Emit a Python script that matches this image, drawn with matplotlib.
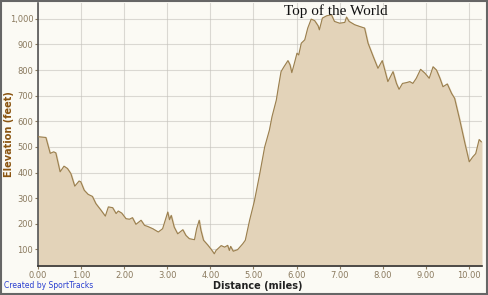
import matplotlib
matplotlib.use("Agg")
import matplotlib.pyplot as plt
from matplotlib.ticker import FuncFormatter
import numpy as np

# elevation profile
dist = [0.00, 0.18, 0.28, 0.36, 0.41, 0.51, 0.60, 0.68, 0.76, 0.85, 0.95, 0.99,
        1.07, 1.16, 1.26, 1.34, 1.46, 1.56, 1.63, 1.73, 1.81, 1.86, 1.94, 2.04,
        2.12, 2.19, 2.27, 2.39, 2.47, 2.54, 2.66, 2.79, 2.89, 3.01, 3.05, 3.09,
        3.16, 3.24, 3.36, 3.43, 3.51, 3.63, 3.68, 3.74, 3.78, 3.84, 3.94, 4.02,
        4.09, 4.13, 4.25, 4.33, 4.40, 4.44, 4.47, 4.53, 4.63, 4.75, 4.81, 4.91,
        5.02, 5.14, 5.26, 5.37, 5.43, 5.47, 5.53, 5.58, 5.64, 5.70, 5.80, 5.85,
        5.89, 5.95, 6.01, 6.05, 6.11, 6.19, 6.26, 6.34, 6.42, 6.50, 6.53, 6.60,
        6.70, 6.81, 6.88, 7.00, 7.12, 7.16, 7.22, 7.35, 7.47, 7.58, 7.66, 7.78,
        7.89, 7.99, 8.05, 8.12, 8.24, 8.32, 8.38, 8.46, 8.55, 8.63, 8.70, 8.78,
        8.88, 8.98, 9.08, 9.17, 9.25, 9.33, 9.40, 9.50, 9.60, 9.67, 9.79, 9.91,
        10.01, 10.09, 10.16, 10.24, 10.29]
elev = [540, 537, 475, 481, 477, 403, 425, 416, 396, 347, 367, 364,
        331, 315, 307, 279, 253, 230, 266, 263, 240, 250, 242, 220,
        218, 224, 198, 214, 194, 190, 181, 168, 181, 246, 216, 233,
        187, 161, 177, 155, 142, 138, 181, 214, 175, 136, 117, 100,
        83, 96, 115, 109, 116, 96, 112, 93, 99, 122, 136, 214,
        288, 390, 500, 566, 618, 644, 683, 735, 794, 811, 837, 820,
        790, 827, 866, 859, 905, 918, 964, 999, 993, 973, 957, 1003,
        1012, 1016, 990, 983, 986, 1007, 990, 977, 970, 964, 905, 853,
        807, 837, 800, 755, 794, 748, 725, 748, 751, 755, 748, 768,
        803, 788, 768, 813, 800, 768, 735, 746, 709, 690, 605, 514,
        442, 461, 474, 529, 520]

xticks = [0, 1, 2, 3, 4, 5, 6, 7, 8, 9, 10]
yticks = [100, 200, 300, 400, 500, 600, 700, 800, 900, 1000]

fig = plt.figure(figsize=(4.89, 2.95), dpi=100)
fig.patch.set_facecolor("#fbfaf4")
ax = fig.add_axes([0.078, 0.098, 0.908, 0.892])
ax.set_facecolor("#fbfaf4")

ax.fill_between(dist, 0, elev, color="#e3d3b9", zorder=2)
ax.plot(dist, elev, color="#9a7f4e", lw=0.8, zorder=3)

ax.set_xlim(0, 10.31)
ax.set_ylim(35, 1062)
ax.set_xticks(xticks)
ax.set_yticks(yticks)
ax.xaxis.set_major_formatter(FuncFormatter(lambda v, p: "%.2f" % v))
ax.yaxis.set_major_formatter(FuncFormatter(lambda v, p: "{:,.0f}".format(v)))
ax.grid(True, color="#c4c2bc", lw=0.8, zorder=1)
for g in ax.get_xgridlines() + ax.get_ygridlines():
    g.set_zorder(2.5)
    g.set_alpha(0.6)

ax.tick_params(labelsize=6, colors="#8a7a5e", length=2, pad=1.5)
for s in ["top", "right"]:
    ax.spines[s].set_visible(False)
ax.spines["left"].set_color("#555555")
ax.spines["bottom"].set_color("#333333")
ax.spines["left"].set_linewidth(1.2)
ax.spines["bottom"].set_linewidth(1.2)

fig.text(0.528, 0.031, "Distance (miles)", fontsize=7, fontweight="bold",
         color="#222222", ha="center", va="center")
fig.text(0.019, 0.545, "Elevation (feet)", fontsize=7, fontweight="bold",
         color="#8a5410", ha="center", va="center", rotation=90)

fig.text(0.687, 0.985, "Top of the World", family="Liberation Serif", fontsize=11,
         ha="center", va="top", color="#111111")
fig.text(0.008, 0.018, "Created by SportTracks", fontsize=5.5, color="#2a3fd0",
         ha="left", va="bottom")

# frame around the picture
fig.add_artist(plt.Rectangle((0.002, 0.004), 0.994, 0.992, transform=fig.transFigure,
                             fill=False, edgecolor="#666666", lw=1.5))

fig.savefig("out.png", dpi=100, facecolor=fig.get_facecolor())
